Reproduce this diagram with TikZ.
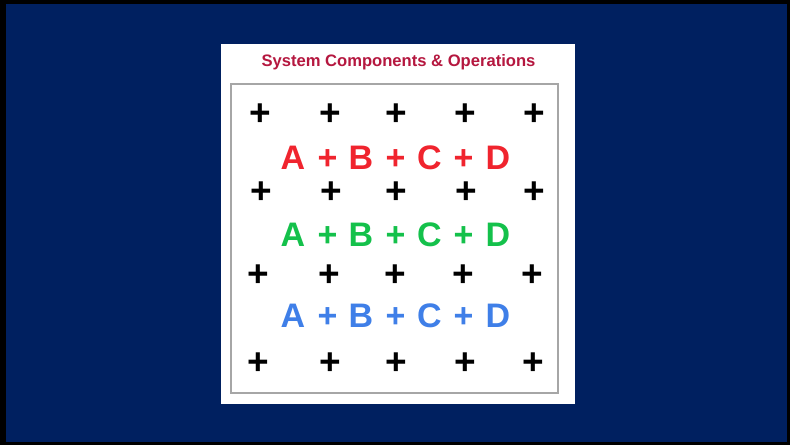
\documentclass[tikz,border=0pt]{standalone}
\usepackage{fontspec}
\setmainfont{Liberation Sans}
\definecolor{navy}{HTML}{002060}
\definecolor{titlered}{HTML}{B5173F}
\definecolor{rowred}{HTML}{F0242E}
\definecolor{rowgreen}{HTML}{14C14B}
\definecolor{rowblue}{HTML}{3F7FE8}
\definecolor{boxgrey}{HTML}{A6A6A6}
\tikzset{
  blackplus/.style={anchor=base, inner sep=0pt, font=\fontsize{37}{37}\selectfont\bfseries, text=black},
  glyph/.style={anchor=base, inner sep=0pt, font=\fontsize{34}{34}\selectfont\bfseries},
  titletext/.style={anchor=base, inner sep=0pt, font=\fontsize{16.6}{16.6}\selectfont\bfseries, text=titlered}
}
\begin{document}
\begin{tikzpicture}[x=1pt,y=-1pt]
\useasboundingbox (0,0) rectangle (790,445);
\fill[black] (0,0) rectangle (790,445);
\fill[navy] (6,4) rectangle (787,442);
\fill[white] (221,44) rectangle (575,404);
\draw[boxgrey, line width=1.5pt] (231,84) rectangle (558,393);
\node[titletext] (title) at (398.5,66.5) {System Components \& Operations};
% black plus rows
\foreach \r/\y/\xa/\xb/\xc/\xd/\xe in {1/112/260/330.5/396.5/465.5/534.5, 2/190/261/331/396.5/466/534.5, 3/273/258.5/329.5/395/463.5/532.5, 4/361.5/258.5/330.5/396/465/533.5}{
  \foreach \c/\x in {1/\xa,2/\xb,3/\xc,4/\xd,5/\xe}{
    \node[blackplus] (p\r\c) at (\x,\y+13) {+};
  }
}
% coloured rows
\foreach \row/\base/\col in {red/169/rowred, green/246/rowgreen, blue/327/rowblue}{
  \foreach \i/\x/\t in {1/293/A, 2/327.5/+, 3/361/B, 4/395.5/+, 5/429.5/C, 6/463.5/+, 7/498/D}{
    \node[glyph, text=\col] (\row\i) at (\x,\base) {\t};
  }
}
\end{tikzpicture}
\end{document}
